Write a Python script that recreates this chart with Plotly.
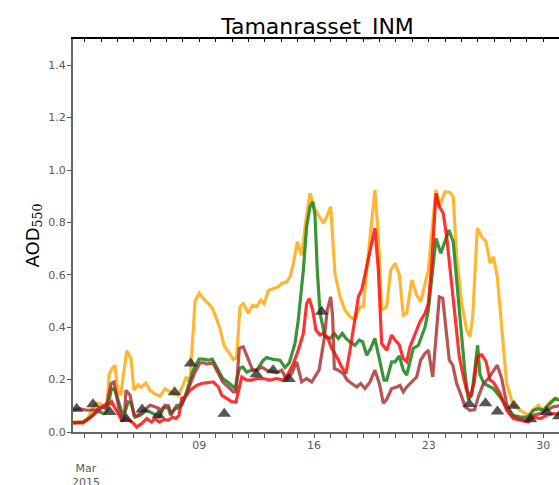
import pandas as pd
import plotly.graph_objects as go

START = pd.Timestamp("2015-03-01")

# Model AOD at 550 nm, given as (days since 1 March 00 UTC, AOD)
orange_day = [0.29, 0.90, 1.12, 1.50, 1.73, 2.04, 2.34, 2.50, 2.65, 2.85, 3.03, 3.20, 3.57, 3.83, 4.01, 4.26,
              4.44, 4.74, 4.99, 5.29, 5.60, 5.90, 6.33, 6.70, 6.94, 7.19, 7.43, 7.74, 8.00, 8.24, 8.55, 8.82,
              9.06, 9.26, 9.51, 9.77, 10.07, 10.28, 10.48, 10.68, 10.99, 11.26, 11.50, 11.75, 11.95, 12.21,
              12.52, 12.82, 13.03, 13.33, 13.54, 13.74, 13.98, 14.25, 14.51, 14.76, 15.00, 15.26, 15.57,
              15.78, 16.02, 16.28, 16.59, 16.89, 17.20, 17.50, 17.81, 18.01, 18.22, 18.52, 18.72, 18.93,
              19.13, 19.44, 19.68, 19.95, 20.21, 20.45, 20.66, 20.97, 21.27, 21.51, 21.78, 21.98, 22.25,
              22.45, 22.65, 23.00, 23.30, 23.50, 23.71, 24.02, 24.32, 24.52, 24.69, 24.97, 25.24, 25.50,
              25.75, 25.95, 26.19, 26.46, 26.76, 27.07, 27.17, 27.58, 28.08, 28.39, 28.69, 29.00, 29.41,
              29.82, 30.02]
orange_aod = [0.038, 0.040, 0.045, 0.09, 0.11, 0.105, 0.09, 0.22, 0.24, 0.255, 0.15, 0.14, 0.31, 0.28, 0.16,
              0.18, 0.17, 0.187, 0.16, 0.145, 0.137, 0.165, 0.15, 0.14, 0.17, 0.21, 0.19, 0.50, 0.53, 0.51,
              0.49, 0.47, 0.43, 0.395, 0.33, 0.306, 0.278, 0.284, 0.478, 0.49, 0.453, 0.484, 0.478, 0.503,
              0.49, 0.54, 0.548, 0.554, 0.567, 0.573, 0.592, 0.644, 0.726, 0.675, 0.809, 0.911, 0.86, 0.828,
              0.797, 0.822, 0.86, 0.605, 0.516, 0.465, 0.44, 0.43, 0.478, 0.478, 0.618, 0.81, 0.924, 0.745,
              0.465, 0.478, 0.618, 0.644, 0.60, 0.446, 0.453, 0.58, 0.523, 0.497, 0.561, 0.618, 0.797, 0.924,
              0.86, 0.917, 0.914, 0.898, 0.669, 0.49, 0.389, 0.363, 0.44, 0.778, 0.745, 0.726, 0.644, 0.669,
              0.593, 0.389, 0.185, 0.121, 0.102, 0.083, 0.064, 0.085, 0.102, 0.083, 0.115, 0.128, 0.12]

green_day = [0.29, 0.90, 1.43, 1.73, 2.14, 2.34, 2.65, 2.85, 3.36, 3.66, 3.83, 4.07, 4.38, 4.79, 5.19, 5.56,
             5.80, 6.10, 6.25, 6.62, 6.92, 7.13, 7.63, 7.98, 8.29, 8.55, 8.79, 9.06, 9.43, 9.73, 10.07, 10.18,
             10.44, 10.65, 10.89, 11.20, 11.50, 11.91, 12.11, 12.52, 12.92, 13.23, 13.49, 13.84, 14.04, 14.35,
             14.55, 14.76, 14.92, 15.06, 15.20, 15.37, 15.67, 15.98, 16.24, 16.48, 16.73, 16.95, 17.20, 17.50,
             17.77, 17.97, 18.22, 18.46, 18.72, 18.99, 19.27, 19.44, 19.74, 19.95, 20.21, 20.45, 20.66, 20.86,
             21.06, 21.37, 21.58, 21.78, 21.98, 22.19, 22.45, 22.74, 23.00, 23.24, 23.50, 23.71, 23.97, 24.22,
             24.42, 24.63, 24.99, 25.13, 25.38, 25.75, 25.95, 26.36, 26.76, 27.17, 27.58, 28.08, 28.39, 28.69,
             29.00, 29.41, 29.71, 30.02]
green_aod = [0.035, 0.038, 0.06, 0.083, 0.07, 0.08, 0.166, 0.16, 0.057, 0.115, 0.112, 0.057, 0.064, 0.083,
             0.07, 0.057, 0.093, 0.093, 0.064, 0.102, 0.102, 0.134, 0.236, 0.278, 0.278, 0.274, 0.278, 0.248,
             0.204, 0.191, 0.172, 0.166, 0.242, 0.248, 0.229, 0.236, 0.236, 0.274, 0.284, 0.277, 0.274, 0.246,
             0.264, 0.338, 0.427, 0.618, 0.784, 0.86, 0.879, 0.828, 0.618, 0.453, 0.363, 0.357, 0.376, 0.357,
             0.376, 0.357, 0.344, 0.331, 0.351, 0.344, 0.293, 0.319, 0.357, 0.274, 0.198, 0.198, 0.268, 0.268,
             0.29, 0.236, 0.217, 0.268, 0.319, 0.331, 0.363, 0.401, 0.465, 0.58, 0.739, 0.682, 0.733, 0.771,
             0.726, 0.58, 0.401, 0.223, 0.125, 0.14, 0.331, 0.22, 0.185, 0.172, 0.166, 0.134, 0.096, 0.064,
             0.057, 0.057, 0.083, 0.089, 0.083, 0.108, 0.128, 0.12]

red_day = [0.29, 0.90, 1.43, 1.73, 2.34, 2.55, 2.65, 3.26, 3.60, 3.97, 4.18, 4.48, 4.79, 5.09, 5.29, 5.56,
           5.84, 6.11, 6.37, 6.58, 6.76, 6.92, 7.13, 7.43, 7.84, 8.14, 8.55, 8.85, 9.16, 9.37, 9.67, 9.98,
           10.24, 10.59, 10.89, 11.20, 11.50, 11.90, 12.31, 12.72, 13.13, 13.43, 13.74, 14.04, 14.35, 14.55,
           14.71, 14.92, 15.12, 15.37, 15.57, 15.81, 16.08, 16.39, 16.69, 16.95, 17.20, 17.50, 17.71, 17.91,
           18.22, 18.48, 18.72, 18.93, 19.13, 19.44, 19.74, 19.95, 20.21, 20.45, 20.66, 20.86, 21.17, 21.47,
           21.78, 21.98, 22.19, 22.45, 22.65, 22.89, 23.10, 23.35, 23.61, 23.87, 24.12, 24.32, 24.52, 24.77,
           24.97, 25.24, 25.50, 25.75, 25.95, 26.36, 26.76, 27.17, 27.58, 28.08, 28.39, 28.80, 29.21, 29.61,
           30.02]
red_aod = [0.035, 0.035, 0.06, 0.076, 0.108, 0.108, 0.115, 0.045, 0.05, 0.034, 0.019, 0.032, 0.051, 0.038,
           0.051, 0.038, 0.047, 0.045, 0.057, 0.051, 0.064, 0.128, 0.134, 0.159, 0.178, 0.185, 0.187, 0.191,
           0.172, 0.14, 0.128, 0.115, 0.115, 0.21, 0.198, 0.198, 0.204, 0.204, 0.198, 0.204, 0.198, 0.223,
           0.261, 0.312, 0.376, 0.49, 0.51, 0.465, 0.389, 0.37, 0.376, 0.363, 0.319, 0.287, 0.248, 0.223,
           0.312, 0.427, 0.516, 0.542, 0.631, 0.701, 0.778, 0.618, 0.338, 0.312, 0.37, 0.351, 0.332, 0.28,
           0.268, 0.325, 0.376, 0.421, 0.453, 0.49, 0.644, 0.911, 0.86, 0.835, 0.745, 0.593, 0.44, 0.287,
           0.21, 0.159, 0.134, 0.185, 0.287, 0.295, 0.27, 0.198, 0.19, 0.147, 0.083, 0.051, 0.045, 0.038,
           0.057, 0.051, 0.064, 0.07, 0.068]

brown_day = [0.29, 0.71, 1.12, 1.73, 2.04, 2.30, 2.61, 2.79, 3.11, 3.32, 3.42, 3.52, 3.77, 4.01, 4.18, 4.48,
             4.79, 4.99, 5.29, 5.56, 5.70, 5.90, 6.11, 6.27, 6.51, 6.82, 7.13, 7.43, 7.74, 8.04, 8.29, 8.45,
             8.82, 9.06, 9.43, 9.77, 10.07, 10.24, 10.44, 10.68, 10.99, 11.26, 11.50, 11.81, 12.11, 12.72,
             13.03, 13.33, 13.64, 13.94, 14.25, 14.55, 14.86, 15.06, 15.31, 15.61, 15.81, 16.02, 16.14, 16.24,
             16.48, 16.79, 17.03, 17.30, 17.61, 17.85, 18.11, 18.42, 18.72, 18.99, 19.23, 19.44, 19.74, 20.05,
             20.25, 20.45, 20.66, 20.97, 21.27, 21.51, 21.78, 21.98, 22.25, 22.45, 22.65, 22.86, 23.06, 23.26,
             23.47, 23.71, 24.02, 24.22, 24.52, 24.80, 25.03, 25.34, 25.64, 25.95, 26.19, 26.46, 26.76, 27.07,
             27.47, 27.99, 28.39, 28.80, 29.21, 29.61, 30.02]
brown_aod = [0.083, 0.089, 0.083, 0.085, 0.096, 0.089, 0.185, 0.191, 0.083, 0.045, 0.05, 0.159, 0.14, 0.064,
             0.06, 0.076, 0.089, 0.102, 0.096, 0.089, 0.08, 0.102, 0.1, 0.07, 0.089, 0.093, 0.134, 0.178, 0.229,
             0.264, 0.264, 0.259, 0.264, 0.236, 0.191, 0.172, 0.153, 0.153, 0.319, 0.325, 0.274, 0.236, 0.236,
             0.248, 0.236, 0.226, 0.236, 0.2, 0.223, 0.268, 0.191, 0.204, 0.191, 0.21, 0.236, 0.351, 0.465,
             0.516, 0.44, 0.242, 0.236, 0.223, 0.198, 0.185, 0.172, 0.185, 0.166, 0.191, 0.236, 0.185, 0.11,
             0.125, 0.166, 0.172, 0.178, 0.153, 0.172, 0.191, 0.21, 0.274, 0.3, 0.312, 0.21, 0.363, 0.516,
             0.51, 0.389, 0.274, 0.255, 0.185, 0.134, 0.096, 0.083, 0.085, 0.134, 0.185, 0.204, 0.236, 0.255,
             0.204, 0.108, 0.064, 0.051, 0.045, 0.064, 0.07, 0.083, 0.096, 0.1]

# Station observations
obs_day = [0.51, 1.51, 2.53, 3.54, 4.51, 5.50, 6.49, 7.47, 9.52, 11.48, 12.50, 13.47, 15.47,
           24.48, 25.47, 26.20, 27.20, 28.21, 29.21, 29.95]
obs_aod = [0.089, 0.106, 0.076, 0.05, 0.086, 0.064, 0.152, 0.261, 0.07, 0.22, 0.236, 0.202, 0.459,
           0.107, 0.11, 0.078, 0.10, 0.049, 0.076, 0.06]

tick_dates = ["2015-03-09", "2015-03-16", "2015-03-23", "2015-03-30"]
tick_labels = ["09", "16", "23", "30"]
y_ticks = [0.0, 0.2, 0.4, 0.6, 0.8, 1.0, 1.2, 1.4]


def to_time(days):
    return [START + pd.Timedelta(days=d) for d in days]


FONT = "DejaVu Sans"
GREY = "#5a5a5a"
DAY_MS = 86400000
x_range = [START + pd.Timedelta(hours=6.9), START + pd.Timedelta(days=29.957)]

fig = go.Figure()
series = [
    (orange_day, orange_aod, "rgba(255,165,0,0.8)"),
    (green_day, green_aod, "rgba(34,139,34,0.9)"),
    (red_day, red_aod, "rgba(255,0,0,0.8)"),
    (brown_day, brown_aod, "rgba(165,42,42,0.8)"),
]
for days, vals, color in series:
    fig.add_trace(go.Scatter(x=to_time(days), y=vals, mode="lines",
                             line=dict(color=color, width=3.2), showlegend=False))

fig.add_trace(go.Scatter(x=to_time(obs_day), y=obs_aod, mode="markers",
                         marker=dict(symbol="triangle-up", size=12, color="rgba(30,30,30,0.75)",
                                     line=dict(width=0)),
                         showlegend=False))

# empty trace so the top (tick-only) axis is rendered
fig.add_trace(go.Scatter(x=[], y=[], xaxis="x2", showlegend=False, hoverinfo="skip"))

fig.update_layout(
    width=559, height=485,
    margin=dict(l=73, r=0, t=39, b=53),
    paper_bgcolor="white", plot_bgcolor="white",
    font=dict(family=FONT, color=GREY, size=11),
    title=dict(text="Tamanrasset_INM", font=dict(family=FONT, size=22, color="black"),
               x=317.5 / 559, xanchor="center", xref="container",
               y=1 - 26 / 485, yanchor="middle", yref="container"),
    xaxis=dict(type="date", range=x_range, showgrid=False, zeroline=False,
               tickvals=tick_dates, ticktext=tick_labels,
               ticks="outside", ticklen=4, tickcolor=GREY, tickwidth=1,
               tickfont=dict(size=11, color=GREY), ticklabelstandoff=-2,
               minor=dict(ticks="outside", ticklen=4, tickcolor=GREY, dtick=DAY_MS,
                          tick0=START, showgrid=False),
               showline=True, linecolor="#666666", linewidth=2),
    xaxis2=dict(type="date", range=x_range, overlaying="x", side="top", anchor="y",
                showgrid=False, zeroline=False, showticklabels=False,
                ticks="inside", ticklen=3, tickcolor="black", dtick=DAY_MS, tick0=START,
                showline=True, linecolor="black", linewidth=1.5),
    yaxis=dict(range=[0, 1.5], tickvals=y_ticks, ticktext=[f"{v:.1f}" for v in y_ticks],
               showgrid=False, zeroline=False, ticks="outside", ticklen=4, tickcolor=GREY,
               tickfont=dict(size=11, color=GREY), ticklabelstandoff=-1,
               showline=True, linecolor="#666666", linewidth=2),
)

fig.add_annotation(text="AOD<sub><span style='font-family:DejaVu Serif'>550</span></sub>",
                   xref="paper", yref="paper", x=(33 - 73) / 486, y=0.5,
                   xanchor="center", yanchor="middle", textangle=-90, showarrow=False,
                   font=dict(family=FONT, size=18, color="black"))
fig.add_annotation(text="Mar<br>2015", xref="paper", yref="paper",
                   x=(86 - 73) / 486, y=0, xanchor="center", yanchor="top", yshift=-28,
                   showarrow=False, font=dict(family=FONT, size=11, color=GREY))

fig.write_html("out.html")
